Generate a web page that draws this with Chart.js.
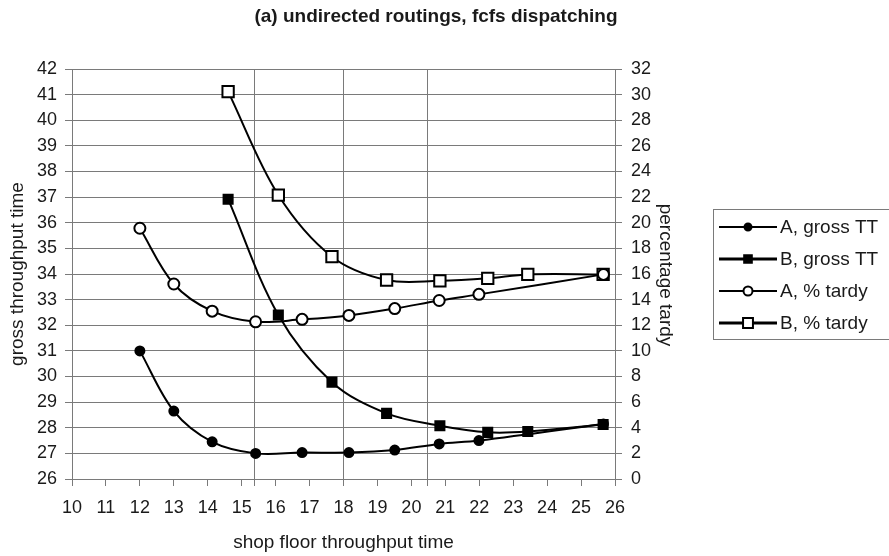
<!DOCTYPE html>
<html>
<head>
<meta charset="utf-8">
<script src="https://cdn.jsdelivr.net/npm/chart.js@4.4.1/dist/chart.umd.min.js"></script>
<style>
  html, body { margin: 0; padding: 0; background: #fff; }
</style>
</head>
<body>
<canvas id="chart" width="889" height="556"></canvas>
<script>
// shop floor throughput time (x) for policy A and B
const xA = [12.0, 13.0, 14.13, 15.41, 16.78, 18.16, 19.51, 20.82, 21.99, 25.66];
const xB = [14.6, 16.08, 17.66, 19.27, 20.84, 22.25, 23.43, 25.65];
// gross throughput time (left axis)
const grossA = [31.0, 28.65, 27.45, 27.0, 27.03, 27.03, 27.13, 27.37, 27.5, 28.15];
const grossB = [36.92, 32.4, 29.78, 28.56, 28.08, 27.82, 27.85, 28.13];
// percentage tardy (right axis)
const tardyA = [19.57, 15.22, 13.1, 12.27, 12.46, 12.77, 13.3, 13.93, 14.41, 15.97];
const tardyB = [30.23, 22.16, 17.35, 15.53, 15.47, 15.66, 15.97, 15.97];

const seriesLabels = ['A, gross TT', 'B, gross TT', 'A, % tardy', 'B, % tardy'];
const xTickRange = [10, 26];
const leftTickRange = [26, 42];
const rightTickRange = [0, 32];
// extra vertical grid lines in the original (x values)
const refLinesX = [15.37, 17.99, 20.47];

const FONT = "'Liberation Sans', Arial, sans-serif";
const GRID = '#7a7a7a';
const TEXT = '#1a1a1a';

const pts = (xs, ys) => xs.map((x, i) => ({ x: x, y: ys[i] }));

function series(label, xs, ys, axis, style, filled, radius) {
  return {
    label: label,
    data: pts(xs, ys),
    yAxisID: axis,
    showLine: true,
    borderColor: '#000',
    borderWidth: 2,
    tension: 0.35,
    pointStyle: style,
    pointRadius: radius,
    pointBorderWidth: 2,
    pointBorderColor: '#000',
    pointBackgroundColor: filled ? '#000' : '#fff'
  };
}

const decor = {
  id: 'decor',
  beforeDatasetsDraw(chart) {
    const { ctx, chartArea: a, scales } = chart;
    ctx.save();
    ctx.strokeStyle = GRID;
    ctx.lineWidth = 1;
    ctx.beginPath();
    refLinesX.forEach(v => {
      const px = Math.round(scales.x.getPixelForValue(v)) + 0.5;
      ctx.moveTo(px, a.top);
      ctx.lineTo(px, a.bottom + 7);
    });
    ctx.stroke();
    ctx.restore();
  },
  afterDraw(chart) {
    const { ctx, chartArea: a } = chart;
    ctx.save();
    ctx.fillStyle = TEXT;
    ctx.textAlign = 'center';
    ctx.textBaseline = 'middle';

    ctx.font = 'bold 19px ' + FONT;
    ctx.fillText('(a) undirected routings, fcfs dispatching', 436, 17);

    ctx.font = '19px ' + FONT;
    ctx.fillText('shop floor throughput time', (a.left + a.right) / 2, 543);

    ctx.save();
    ctx.translate(18, (a.top + a.bottom) / 2);
    ctx.rotate(-Math.PI / 2);
    ctx.fillText('gross throughput time', 0, 0);
    ctx.restore();

    ctx.save();
    ctx.translate(665, (a.top + a.bottom) / 2 + 1);
    ctx.rotate(Math.PI / 2);
    ctx.fillText('percentage tardy', 0, 0);
    ctx.restore();

    // legend
    ctx.strokeStyle = GRID;
    ctx.lineWidth = 1;
    ctx.strokeRect(713.5, 209.5, 200, 130);
    chart.data.datasets.forEach((ds, i) => {
      const y = 227 + i * 32;
      ctx.strokeStyle = '#000';
      ctx.lineWidth = i % 2 ? 3 : 2;
      ctx.beginPath();
      ctx.moveTo(719, y);
      ctx.lineTo(777, y);
      ctx.stroke();
      ctx.fillStyle = ds.pointBackgroundColor;
      ctx.lineWidth = 2;
      Chart.helpers.drawPoint(ctx, {
        pointStyle: ds.pointStyle, radius: ds.pointRadius - 1, rotation: 0, borderWidth: 2
      }, 748, y);
      ctx.fillStyle = TEXT;
      ctx.textAlign = 'left';
      ctx.font = '19px ' + FONT;
      ctx.fillText(ds.label, 780, y + 1);
    });
    ctx.restore();
  }
};

new Chart(document.getElementById('chart'), {
  type: 'scatter',
  data: {
    datasets: [
      series(seriesLabels[0], xA, grossA, 'y', 'circle', true, 4.5),
      series(seriesLabels[1], xB, grossB, 'y', 'rect', true, 6.4),
      series(seriesLabels[2], xA, tardyA, 'y2', 'circle', false, 5.5),
      series(seriesLabels[3], xB, tardyB, 'y2', 'rect', false, 8)
    ]
  },
  options: {
    responsive: false,
    animation: false,
    layout: { padding: { top: 69, left: 0, right: 0, bottom: 0 } },
    plugins: { legend: { display: false }, tooltip: { enabled: false } },
    scales: {
      x: {
        type: 'linear',
        min: xTickRange[0], max: xTickRange[1],
        afterFit(s) { s.height = 77; },
        ticks: { stepSize: 1, color: TEXT, font: { family: FONT, size: 18 }, padding: 11, maxRotation: 0 },
        grid: { drawOnChartArea: false, color: GRID, tickLength: 7 },
        border: { color: GRID }
      },
      y: {
        position: 'left',
        min: leftTickRange[0], max: leftTickRange[1],
        afterFit(s) { s.width = 72; },
        ticks: { stepSize: 1, color: TEXT, font: { family: FONT, size: 18 }, padding: 8 },
        grid: { color: GRID, tickLength: 7 },
        border: { color: GRID }
      },
      y2: {
        position: 'right',
        min: rightTickRange[0], max: rightTickRange[1],
        afterFit(s) { s.width = 274; },
        ticks: { stepSize: 2, color: TEXT, font: { family: FONT, size: 18 }, padding: 9 },
        grid: { drawOnChartArea: false, color: GRID, tickLength: 7 },
        border: { color: GRID }
      }
    }
  },
  plugins: [decor]
});
</script>
</body>
</html>
